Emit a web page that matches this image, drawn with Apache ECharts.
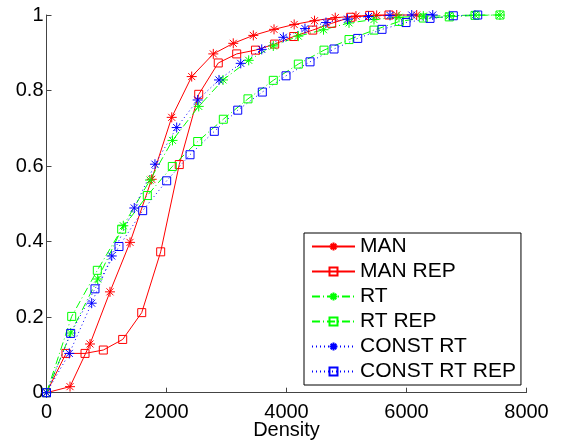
<!DOCTYPE html>
<html>
<head>
<meta charset="utf-8">
<script src="https://cdn.jsdelivr.net/npm/echarts@6/dist/echarts.min.js"></script>
<style>
  html, body { margin: 0; padding: 0; background: #fff; }
  #chart { width: 561px; height: 441px; }
</style>
</head>
<body>
<div id="chart"></div>
<script>
// Cumulative fraction versus density for each scheme
const seriesNames = ['MAN', 'MAN REP', 'RT', 'RT REP', 'CONST RT', 'CONST RT REP'];

const manX = [0, 392, 725, 1058, 1392, 1753, 2087, 2420, 2780, 3113, 3447, 3792, 4128, 4467, 4813, 5158, 5503, 5837, 6170];
const manY = [0, 0.016, 0.129, 0.267, 0.398, 0.565, 0.729, 0.837, 0.897, 0.925, 0.946, 0.962, 0.975, 0.985, 0.993, 0.997, 0.999, 1, 1];

const manRepX = [0, 325, 642, 947, 1270, 1587, 1903, 2213, 2537, 2863, 3170, 3483, 3803, 4120, 4437, 4753, 5070, 5387, 5708];
const manRepY = [0, 0.104, 0.104, 0.113, 0.141, 0.212, 0.373, 0.604, 0.790, 0.873, 0.897, 0.907, 0.923, 0.943, 0.960, 0.978, 0.994, 0.999, 1];

const rtX = [0, 403, 853, 1280, 1725, 2100, 2537, 2942, 3370, 3780, 4197, 4617, 5042, 5458, 5875, 6280, 6713, 7142, 7558];
const rtY = [0, 0.158, 0.301, 0.442, 0.563, 0.668, 0.758, 0.828, 0.880, 0.918, 0.944, 0.961, 0.979, 0.988, 0.994, 0.997, 0.998, 1, 1];

const rtRepX = [0, 420, 847, 1253, 1680, 2097, 2520, 2947, 3358, 3780, 4197, 4625, 5042, 5458, 5880, 6280, 6713, 7142, 7558];
const rtRepY = [0, 0.202, 0.324, 0.433, 0.522, 0.599, 0.665, 0.724, 0.778, 0.827, 0.870, 0.907, 0.935, 0.960, 0.983, 0.992, 0.995, 0.999, 1];

const constX = [0, 380, 753, 1087, 1463, 1808, 2170, 2520, 2875, 3237, 3587, 3947, 4308, 4658, 5017, 5367, 5725, 6087, 6437];
const constY = [0, 0.104, 0.237, 0.362, 0.489, 0.605, 0.702, 0.775, 0.828, 0.872, 0.909, 0.941, 0.964, 0.980, 0.989, 0.996, 0.999, 1, 1];

const constRepX = [0, 403, 808, 1208, 1603, 2003, 2392, 2797, 3187, 3597, 3992, 4392, 4792, 5187, 5592, 5992, 6392, 6780, 7187];
const constRepY = [0, 0.157, 0.275, 0.387, 0.482, 0.561, 0.630, 0.692, 0.748, 0.796, 0.839, 0.876, 0.910, 0.938, 0.962, 0.980, 0.991, 0.998, 1];

const xTicks = [0, 2000, 4000, 6000, 8000];
const yTicks = [0, 0.2, 0.4, 0.6, 0.8, 1];

const FONT = 'Liberation Sans, Arial, Helvetica, sans-serif';
const RED = '#ff0000', GREEN = '#00ff00', BLUE = '#0000ff';
const STAR = 'path://M0,-1L0,1M-1,0L1,0M-0.7,-0.7L0.7,0.7M-0.7,0.7L0.7,-0.7';
const SQUARE = 'rect';
const DASHDOT = [8, 3, 1, 3];
const DOTTED = [1, 3];

function zip(xs, ys) { return xs.map((x, i) => [x, ys[i]]); }

function makeSeries(name, xs, ys, color, symbol, dash) {
  const isStar = symbol === STAR;
  return {
    name: name,
    type: 'line',
    data: zip(xs, ys),
    symbol: symbol,
    symbolSize: isStar ? 10 : 8,
    showAllSymbol: true,
    clip: false,
    lineStyle: { color: color, width: 1, type: dash || 'solid' },
    itemStyle: { color: 'transparent', borderColor: color, borderWidth: 1 },
    emphasis: { disabled: true },
    animation: false
  };
}

const chart = echarts.init(document.getElementById('chart'), null, { renderer: 'canvas' });

chart.setOption({
  backgroundColor: '#ffffff',
  animation: false,
  grid: { left: 46.5, right: 34.5, top: 15, bottom: 48.3, containLabel: false, outerBoundsMode: 'none' },
  legend: {
    orient: 'vertical',
    left: 304,
    top: 233,
    padding: [1, 5, 1, 7],
    backgroundColor: '#ffffff',
    borderColor: '#000000',
    borderWidth: 1,
    itemWidth: 43,
    itemHeight: 10,
    itemGap: 0,
    itemStyle: { color: 'transparent' },
    textStyle: { fontFamily: FONT, fontSize: 21, color: '#000', lineHeight: 25 },
    data: seriesNames
  },
  xAxis: {
    type: 'value',
    min: xTicks[0],
    max: xTicks[xTicks.length - 1],
    interval: 2000,
    name: 'Density',
    nameLocation: 'middle',
    nameGap: 28,
    nameMoveOverlap: false,
    nameTextStyle: { fontFamily: FONT, fontSize: 20, color: '#000' },
    axisLine: { lineStyle: { color: '#444', width: 1 } },
    axisTick: { inside: true, length: 5, lineStyle: { color: '#444' } },
    axisLabel: { fontFamily: FONT, fontSize: 20, color: '#000', margin: 10, formatter: v => String(v) },
    splitLine: { show: false }
  },
  yAxis: {
    type: 'value',
    min: yTicks[0],
    max: yTicks[yTicks.length - 1],
    interval: 0.2,
    axisLine: { show: true, lineStyle: { color: '#444', width: 1 } },
    axisTick: { show: true, inside: true, length: 5, lineStyle: { color: '#444' } },
    axisLabel: { fontFamily: FONT, fontSize: 20, color: '#000', margin: 3, formatter: v => String(+v.toFixed(1)) },
    splitLine: { show: false }
  },
  series: [
    makeSeries(seriesNames[0], manX, manY, RED, STAR, 'solid'),
    makeSeries(seriesNames[1], manRepX, manRepY, RED, SQUARE, 'solid'),
    makeSeries(seriesNames[2], rtX, rtY, GREEN, STAR, DASHDOT),
    makeSeries(seriesNames[3], rtRepX, rtRepY, GREEN, SQUARE, DASHDOT),
    makeSeries(seriesNames[4], constX, constY, BLUE, STAR, DOTTED),
    makeSeries(seriesNames[5], constRepX, constRepY, BLUE, SQUARE, DOTTED)
  ]
});
</script>
</body>
</html>
